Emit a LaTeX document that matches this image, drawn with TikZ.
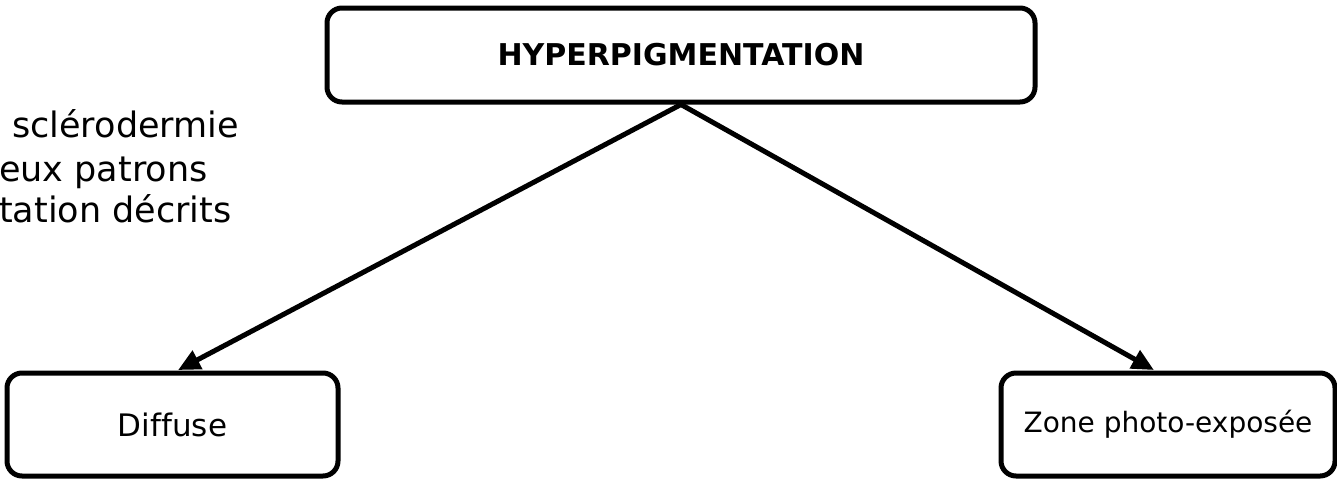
\documentclass[tikz,border=0pt]{standalone}
\usepackage{fontspec}
\setmainfont[Ligatures=NoCommon]{DejaVu Sans}
\usetikzlibrary{arrows.meta,calc}
\tikzset{
  box/.style={draw=black, line width=5pt, rounded corners=15pt, fill=white, inner sep=0pt, align=center},
  conn/.style={line width=5pt, -{Triangle[length=22pt,width=20pt]}, shorten >=1pt},
  side/.style={anchor=base west, inner sep=0pt, font=\fontsize{35}{42}\selectfont}
}
\begin{document}
\begin{tikzpicture}[x=1pt,y=-1pt]
\path[use as bounding box, fill=white] (0,0) rectangle (1337,480);
\node[box, minimum width=708pt, minimum height=94pt, font=\bfseries\fontsize{30}{36}\selectfont] (top) at (681,55) {HYPERPIGMENTATION};
\node[box, minimum width=331pt, minimum height=103pt, font=\fontsize{31}{37}\selectfont] (dif) at (172.5,424.5) {Diffuse};
\node[box, minimum width=334pt, minimum height=103pt, font=\fontsize{28}{34}\selectfont] (zone) at (1168,424.5) {Zone photo-exposée};
\node[side] (l1) at (12,137) {sclérodermie};
\node[side] (l2) at (-1,181) {eux patrons};
\node[side] (l3) at (-1,222) {tation décrits};
\coordinate (ltip) at ($(dif.north west)!0.514!(dif.north east)$);
\coordinate (rtip) at ($(zone.north west)!0.461!(zone.north east)$);
\draw[conn] (top.south) -- (ltip);
\draw[conn] (top.south) -- (rtip);
\end{tikzpicture}
\end{document}
